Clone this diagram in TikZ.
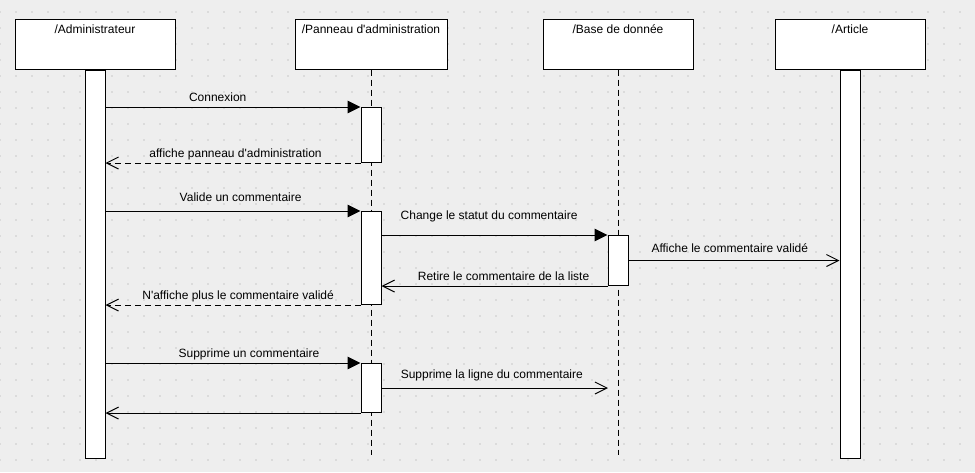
\documentclass[tikz,border=0pt]{standalone}
\usepackage{fontspec}
\setmainfont{Liberation Sans}
\usetikzlibrary{arrows.meta}
\definecolor{canvas}{RGB}{238,238,238}
\definecolor{griddot}{RGB}{200,200,200}

\begin{document}
\begin{tikzpicture}[x=0.75pt, y=-0.75pt, line width=0.75pt,
    font=\fontsize{9}{11}\selectfont,
    lifebox/.style={draw, fill=white, inner sep=0pt, text height=10.9pt, text depth=26.6pt},
    bar/.style={draw, fill=white, inner sep=0pt, minimum width=15pt, anchor=north},
    lifeline/.style={dash pattern=on 5pt off 2.5pt},
    call/.style={-{Triangle[length=9.75pt,width=9.5pt]}},
    reply/.style={-{Straight Barb[length=9pt,width=9pt]}},
    replydash/.style={reply, dash pattern=on 4.5pt off 3pt},
    msglbl/.style={above=#1, inner sep=0pt, text depth=0pt},
    msglbl/.default=4pt]
    \fill[canvas] (0,0) rectangle (975,472);
    \useasboundingbox (0,0) rectangle (975,472);
    \foreach \i in {0,...,60}
        \foreach \j in {0,...,28}
            \fill[griddot] (16*\i,12+16*\j) circle (0.7pt);

    \node[lifebox, minimum width=120pt] (admin) at (95,44) {/Administrateur};
    \node[lifebox, minimum width=114pt] (panel) at (371,44) {/Panneau d\textquotesingle administration};
    \node[lifebox, minimum width=112.5pt] (base) at (618,44) {/Base de donnée};
    \node[lifebox, minimum width=112.5pt] (article) at (850,44) {/Article};

    \coordinate (panelend) at (371,455);
    \coordinate (baseend) at (618,455);
    \draw[lifeline] (panel.south) -- (panelend);
    \draw[lifeline] (base.south) -- (baseend);

    \node[bar, minimum height=291pt] (adminbar) at (admin.south) {};
    \node[bar, minimum height=291pt] (articlebar) at (article.south) {};
    \node[bar, minimum height=41.25pt] (panelact1) at (371,107) {};
    \node[bar, minimum height=69.75pt] (panelact2) at (371,211) {};
    \node[bar, minimum height=36.75pt] (panelact3) at (371,363) {};
    \node[bar, minimum height=37.5pt] (baseact) at (618,235) {};

    \draw[call] (adminbar.east |- panelact1.north west) -- node[msglbl, pos=.44] {Connexion} (panelact1.north west);
    \draw[replydash] (panelact1.south west) -- node[msglbl=3.5pt, pos=.49] {affiche panneau d\textquotesingle administration} (adminbar.east |- panelact1.south west);

    \draw[call] (adminbar.east |- panelact2.north west) -- node[msglbl=7pt, pos=.53] {Valide un commentaire} (panelact2.north west);
    \draw[call] (panelact2.east |- baseact.north west) -- node[msglbl=11pt, pos=.476] {Change le statut du commentaire} (baseact.north west);
    \draw[reply] (baseact.east) -- node[msglbl=5.5pt, pos=.48] {Affiche le commentaire validé} (articlebar.west |- baseact.east);
    \draw[reply] (baseact.south west) -- node[msglbl, pos=.46] {Retire le commentaire de la liste} (panelact2.east |- baseact.south west);
    \draw[replydash] (panelact2.south west) -- node[msglbl, pos=.48] {N\textquotesingle affiche plus le commentaire validé} (adminbar.east |- panelact2.south west);

    \draw[call] (adminbar.east |- panelact3.north west) -- node[msglbl, pos=.5625] {Supprime un commentaire} (panelact3.north west);
    \draw[reply] (panelact3.east) -- node[msglbl=7pt, pos=.487] {Supprime la ligne du commentaire} ([xshift=-7.5pt]baseend |- panelact3.east);
    \draw[reply] (panelact3.south west) -- (adminbar.east |- panelact3.south west);
\end{tikzpicture}
\end{document}
